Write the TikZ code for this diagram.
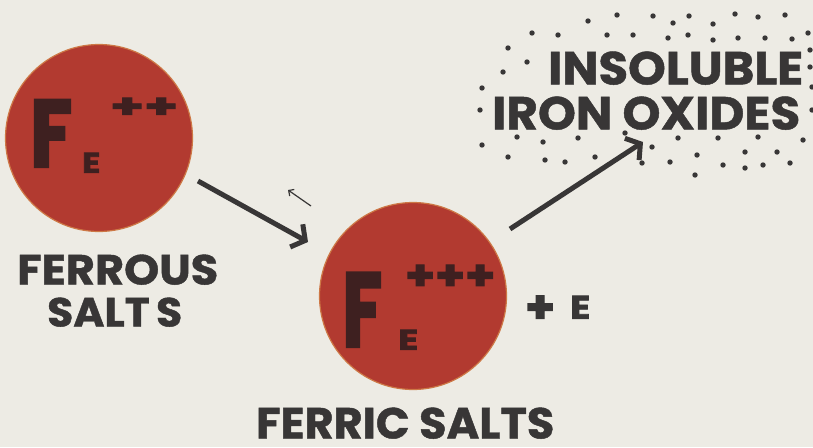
\documentclass[tikz,border=0pt]{standalone}
\usepackage{fontspec}
\setmainfont{Poppins}
\newfontfamily\heavy{Poppins}[BoldFeatures={FakeBold=2.5}]
\newfontfamily\labfont{Poppins}[BoldFeatures={FakeBold=1}]
\usetikzlibrary{arrows.meta}
\definecolor{bg}{RGB}{237,235,228}
\definecolor{ink}{RGB}{56,54,54}
\definecolor{discred}{RGB}{178,58,48}
\definecolor{rim}{RGB}{205,120,70}
\definecolor{darkink}{RGB}{62,32,32}
\newcommand{\fitbox}[3]{\resizebox{#1pt}{#2pt}{\labfont\bfseries #3}}
\newcommand{\heavybox}[3]{\resizebox{#1pt}{#2pt}{\heavy\bfseries #3}}
\begin{document}
\begin{tikzpicture}[x=1pt,y=-1pt,
  lab/.style={inner sep=0pt, anchor=south west, text=ink},
  sym/.style={inner sep=0pt, anchor=south west, text=darkink},
  disc/.style={circle, fill=discred, draw=rim, line width=1.2pt, minimum size=#1pt, inner sep=0pt},
  bigarrow/.style={draw=ink, line width=5pt, -{Straight Barb[length=10pt,width=26pt]}},
  smallarrow/.style={draw=ink, line width=1.2pt, -{Straight Barb[length=4pt,width=8pt]}}]
\fill[bg] (0,0) rectangle (813,447);
\useasboundingbox (0,0) rectangle (813,447);
% discs
\node[disc=187] (c1) at (99,138) {};
\node[disc=187] (c2) at (413,296) {};
% symbols in disc 1
\node[sym] (f1) at (30,167) {\heavybox{42}{67}{F}};
\node[sym] (e1) at (82,173) {\heavybox{18}{20}{E}};
\node[sym] (p1) at (110,118) {\heavybox{68}{20}{++}};
% symbols in disc 2
\node[sym] (f2) at (342,347) {\heavybox{40}{74}{F}};
\node[sym] (e2) at (398,350) {\heavybox{20}{20}{E}};
\node[sym] (p2) at (405,290) {\heavybox{90}{25}{+++}};
% labels
\node[lab] (ferrous) at (17,285) {\fitbox{201}{30}{FERROUS}};
\node[lab] (salts1) at (47,327) {\fitbox{135}{29}{\spaceskip=0.15em\relax SALT S}};
\node[lab] (insol) at (548,85) {\fitbox{255}{33}{INSOLUBLE}};
\node[lab] (iron) at (492,130) {\fitbox{308}{33}{IRON OXIDES}};
\node[lab] (ferric) at (256,439) {\fitbox{298}{31}{FERRIC SALTS}};
\node[lab] (plusE) at (525,323) {\raisebox{-4pt}{\heavybox{30}{27}{+}}\hspace{15pt}\heavybox{20}{23}{E}};
% arrows
\coordinate (a1s) at (198,181);
\coordinate (a1e) at (308,242);
\draw[bigarrow] (a1s) -- (a1e);
\coordinate (a2s) at (510,229);
\coordinate (a2e) at (643,142);
\draw[bigarrow] (a2s) -- (a2e);
\coordinate (s1) at (311,206);
\coordinate (s2) at (288,190);
\draw[smallarrow] (s1) -- (s2);
% dots around the oxides
\foreach \x/\y in {617/15,653/16,673/23,689/16,713/24,735/14,758/17,785/15,
  588/21,532/33,558/35,607/35,633/35,668/38,688/35,713/40,738/38,765/38,792/39,808/33,
  508/48,527/62,503/72,810/50,810/67,482/88,812/87,480/110,812/110,
  482/145,517/137,543/142,578/138,625/133,652/147,678/138,718/138,758/137,777/152,803/140,
  508/157,545/160,565/162,595/157,642/163,670/162,697/155,723/165,745/152,745/168,763/165,790/163,695/175}
  \fill[ink] (\x,\y) circle (2.7);
\end{tikzpicture}
\end{document}
